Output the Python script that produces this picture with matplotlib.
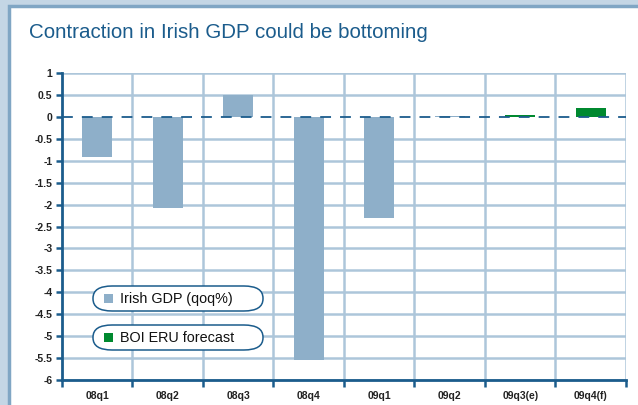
import numpy as np
import matplotlib.pyplot as plt
from matplotlib.patches import Rectangle, FancyBboxPatch

plt.rcParams['font.family'] = ['Liberation Sans', 'DejaVu Sans']

# data
quarters = ["08q1", "08q2", "08q3", "08q4", "09q1", "09q2", "09q3(e)", "09q4(f)"]
gdp = [-0.92, -2.07, 0.5, -5.55, -2.3, 0.02, np.nan, np.nan]
forecast = [np.nan, np.nan, np.nan, np.nan, np.nan, np.nan, 0.04, 0.21]
y_ticks = np.arange(-6, 1.01, 0.5)

navy = "#1b5c8c"
grid_c = "#adc6da"
gray_bar = "#8eafc9"
green_bar = "#00892f"

fig = plt.figure(figsize=(6.38, 4.05), dpi=100)
fig.patch.set_facecolor("#c4d6e5")
# white panel with darker frame
fig.patches.append(Rectangle((9 / 638, -0.01), 1, 1.01 - 6 / 405, transform=fig.transFigure,
                             facecolor="white", edgecolor="#80a6c4", linewidth=2.5, zorder=-5))
fig.text(29 / 638, 1 - 32 / 405, "Contraction in Irish GDP could be bottoming",
         color=navy, fontsize=14.8, va="center", ha="left")

ax = fig.add_axes([62 / 638, 1 - 380 / 405, (626 - 62) / 638, (380 - 73) / 405])
x = np.arange(len(quarters)) + 0.5
ax.bar(x, gdp, width=0.43, color=gray_bar, zorder=3)
ax.bar(x, forecast, width=0.43, color=green_bar, zorder=3)

ax.set_xlim(0, len(quarters))
ax.set_ylim(-6, 1)

for v in y_ticks:
    if v != 0:
        ax.axhline(v, color=grid_c, linewidth=1.8, zorder=1)
for b in range(1, len(quarters) + 1):
    ax.axvline(b, color=grid_c, linewidth=1.8, zorder=1)
ax.axhline(0, color=navy, linewidth=1.3, dashes=(6, 5), zorder=4)

ax.set_yticks(y_ticks)
ax.set_yticklabels([f"{v:g}" for v in y_ticks], fontsize=7.5, fontweight="bold", color="#222222")
ax.set_xticks(np.arange(0, len(quarters) + 1))
ax.set_xticklabels([])
ax.set_xticks(x, minor=True)
ax.set_xticklabels(quarters, minor=True, fontsize=7.5, fontweight="bold", color="#222222")
ax.tick_params(axis="x", which="minor", length=0, pad=8)
ax.tick_params(axis="x", which="major", length=5, width=1.8, color=navy, direction="out")
ax.tick_params(axis="y", length=4, width=1.8, color=navy, direction="out", pad=3)

for s in ["top", "right"]:
    ax.spines[s].set_visible(False)
for s in ["left", "bottom"]:
    ax.spines[s].set_color(navy)
    ax.spines[s].set_linewidth(2)
ax.set_facecolor("white")

# legend boxes
legend_items = [("Irish GDP (qoq%)", gray_bar, 299), ("BOI ERU forecast", green_bar, 338)]
for label, col, yc in legend_items:
    box = FancyBboxPatch((93 / 638, 1 - (yc + 12) / 405), 170 / 638, 25 / 405,
                         boxstyle="round,pad=0,rounding_size=0.03", transform=fig.transFigure,
                         facecolor="white", edgecolor=navy, linewidth=1.1, zorder=5)
    fig.patches.append(box)
    fig.patches.append(Rectangle((104 / 638, 1 - (yc + 4) / 405), 9 / 638, 9 / 405,
                                 transform=fig.transFigure, facecolor=col, zorder=6))
    fig.text(120 / 638, 1 - yc / 405, label, fontsize=10.4, color="#111111",
             va="center", ha="left", zorder=7)

fig.savefig("out.png", dpi=100)
